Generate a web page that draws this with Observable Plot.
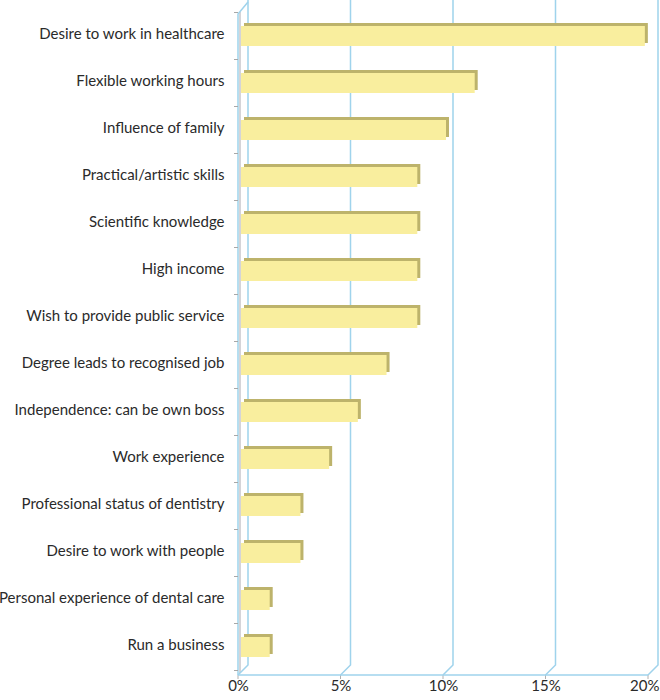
<!DOCTYPE html>
<html>
<head>
<meta charset="utf-8">
<script src="https://cdn.jsdelivr.net/npm/d3@7"></script>
<script src="https://cdn.jsdelivr.net/npm/@observablehq/plot@0.6"></script>
<style>
  html, body { margin: 0; padding: 0; background: #fff; }
  #chart svg { display: block; }
</style>
</head>
<body>
<div id="chart"></div>
<script>
const categories = [
  "Desire to work in healthcare",
  "Flexible working hours",
  "Influence of family",
  "Practical/artistic skills",
  "Scientific knowledge",
  "High income",
  "Wish to provide public service",
  "Degree leads to recognised job",
  "Independence: can be own boss",
  "Work experience",
  "Professional status of dentistry",
  "Desire to work with people",
  "Personal experience of dental care",
  "Run a business"
];
const values = [19.7, 11.4, 10, 8.6, 8.6, 8.6, 8.6, 7.1, 5.7, 4.3, 2.9, 2.9, 1.4, 1.4];
const xTicks = [0, 5, 10, 15, 20];

const data = categories.map((c, i) => ({cat: c, value: values[i]}));

const gridColor = "#9fd3ec";
const depthX = 10, depthY = 10;

function wallFrame(index, scales, channels, dims) {
  const {x, y} = scales;
  const g = d3.create("svg:g");
  const bottom = dims.height - dims.marginBottom + 1;
  const top = 0;
  // left wall thickness shading
  g.append("line")
    .attr("x1", x(0) + 2).attr("x2", x(0) + 2)
    .attr("y1", top + 12).attr("y2", bottom - 2)
    .attr("stroke", "#d4d4d8").attr("stroke-width", 2);
  // back grid lines + diagonal connectors
  for (const t of xTicks) {
    const px = x(t);
    g.append("path")
      .attr("d", `M${px + depthX},${top}L${px + depthX},${bottom - depthY}L${px},${bottom}`)
      .attr("fill", "none").attr("stroke", gridColor).attr("stroke-width", 1.5);
    g.append("line")
      .attr("x1", px).attr("x2", px)
      .attr("y1", bottom).attr("y2", bottom + 4)
      .attr("stroke", "#b0b0b0").attr("stroke-width", 1);
  }
  // front baseline
  g.append("line")
    .attr("x1", x(0)).attr("x2", x(xTicks[xTicks.length - 1]))
    .attr("y1", bottom).attr("y2", bottom)
    .attr("stroke", gridColor).attr("stroke-width", 1.5);
  // front left edge with top diagonal
  g.append("path")
    .attr("d", `M${x(0) + depthX},${top + 2}L${x(0)},${top + 14}L${x(0)},${bottom}`)
    .attr("fill", "none").attr("stroke", gridColor).attr("stroke-width", 1.5);
  // grey ticks on left wall at category boundaries
  const step = y.step();
  const bw = y.bandwidth();
  const bounds = categories.map(c => y(c) + bw / 2 - step / 2);
  bounds.push(y(categories[categories.length - 1]) + bw / 2 + step / 2);
  for (const b of bounds) {
    g.append("line")
      .attr("x1", x(0) - 4).attr("x2", x(0))
      .attr("y1", b).attr("y2", b)
      .attr("stroke", "#a8a8a8").attr("stroke-width", 1);
  }
  return g.node();
}

const lastTick = xTicks[xTicks.length - 1];

const chart = Plot.plot({
  width: 660,
  height: 700,
  marginLeft: 238,
  marginRight: 12,
  marginTop: 9,
  marginBottom: 26,
  style: {fontFamily: "Lato, 'Open Sans', sans-serif", fontSize: "15px", color: "#2a2a2a", background: "#fff"},
  x: {domain: [0, 20], axis: null},
  y: {domain: categories, paddingInner: 0.58, paddingOuter: 0.29, axis: null},
  marks: [
    wallFrame,
    Plot.barX(data, {x: "value", y: "cat", fill: "#bdb36b", dx: 6, dy: -3}),
    Plot.barX(data, {x: "value", y: "cat", fill: "#f9ee9e", dx: 3}),
    Plot.text(categories, {x: 0, y: d => d, text: d => d, textAnchor: "end", dx: -14, dy: -2, fill: "#2a2a2a", fontSize: 15}),
    Plot.text(xTicks.filter(t => t !== lastTick), {x: d => d, text: d => d + "%", frameAnchor: "bottom", dy: 16, fill: "#2a2a2a", fontSize: 15}),
    Plot.text([lastTick], {x: d => d, text: d => d + "%", frameAnchor: "bottom", dy: 16, dx: 11, textAnchor: "end", fill: "#2a2a2a", fontSize: 15})
  ]
});
document.getElementById("chart").appendChild(chart);
</script>
</body>
</html>
